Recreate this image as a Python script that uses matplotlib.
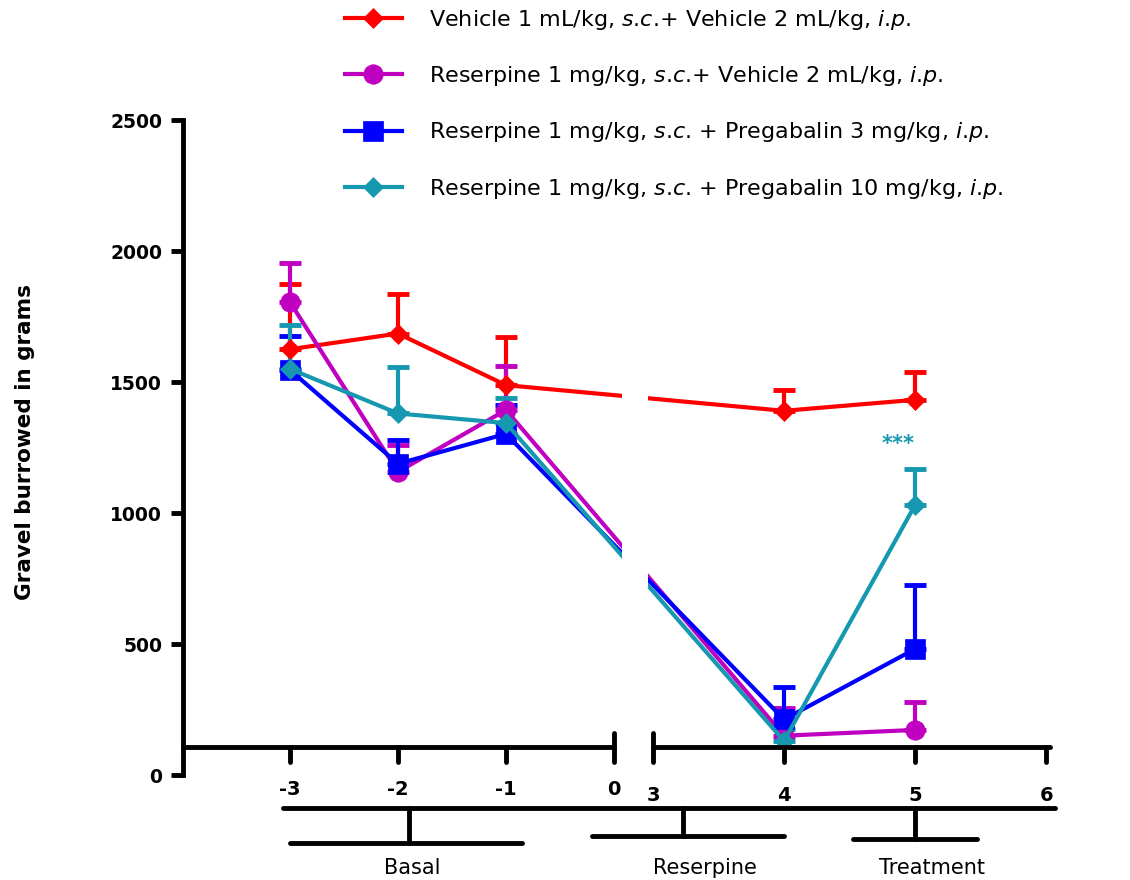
import numpy as np
import matplotlib
matplotlib.use("Agg")
import matplotlib.pyplot as plt

# data (days, grams burrowed, upper SEM)
days = [-3, -2, -1, 4, 5]
veh_mean = [1625, 1685, 1488, 1390, 1432]
veh_err = [250, 150, 185, 80, 107]
res_mean = [1805, 1157, 1393, 150, 172]
res_err = [150, 103, 168, 105, 107]
pg3_mean = [1546, 1188, 1302, 212, 481]
pg3_err = [130, 92, 110, 124, 244]
pg10_mean = [1550, 1380, 1343, 130, 1030]
pg10_err = [168, 177, 96, 45, 138]

sc = r"$\mathit{s}$.$\mathit{c}$."
ip = r"$\mathit{i}$.$\mathit{p}$."
labels = ["Vehicle 1 mL/kg, " + sc + "+ Vehicle 2 mL/kg, " + ip,
          "Reserpine 1 mg/kg, " + sc + "+ Vehicle 2 mL/kg, " + ip,
          "Reserpine 1 mg/kg, " + sc + " + Pregabalin 3 mg/kg, " + ip,
          "Reserpine 1 mg/kg, " + sc + " + Pregabalin 10 mg/kg, " + ip]
colors = ["#FF0000", "#C000C0", "#0000FF", "#1598B0"]
markers = ["D", "o", "s", "D"]
msizes = [10, 14, 14, 10]

left_ticks = [-3, -2, -1, 0]
right_ticks = [3, 4, 5, 6]
phases = ["Basal", "Reserpine", "Treatment"]

# broken x axis: -4..0 and 3..6 with different widths
S1, GAP, S2 = 108.0, 39.0, 131.0


def fwd(x):
    x = np.asarray(x, dtype=float)
    return np.where(x <= 0, x * S1, np.where(x < 3, x * GAP / 3, GAP + (x - 3) * S2))


def inv(u):
    u = np.asarray(u, dtype=float)
    return np.where(u <= 0, u / S1, np.where(u < GAP, u * 3 / GAP, 3 + (u - GAP) / S2))


fig = plt.figure(figsize=(11.3, 8.8), dpi=100)
ax = fig.add_axes([183 / 1130, 105 / 880, 867 / 1130, 655 / 880])
ax.set_xscale("function", functions=(fwd, inv))
ax.set_xlim(-3.99, 6.03)
ax.set_ylim(0, 2500)

series = [(veh_mean, veh_err), (res_mean, res_err), (pg3_mean, pg3_err), (pg10_mean, pg10_err)]
handles = []
for (m, e), c, mk, ms in zip(series, colors, markers, msizes):
    ax.errorbar(days, m, yerr=[np.zeros(len(e)), e], fmt="none", ecolor=c,
                elinewidth=3, capsize=8, capthick=3.5, zorder=2)
    h, = ax.plot(days, m, color=c, lw=3, marker=mk, ms=ms, mec=c, mew=0.5, zorder=3)
    handles.append(h)

# white gap for the axis break
ax.axvspan(0.62, 2.62, color="white", zorder=4, lw=0)

# y axis
for s in ["top", "right", "bottom"]:
    ax.spines[s].set_visible(False)
ax.spines["left"].set_linewidth(3.5)
ax.set_yticks([0, 500, 1000, 1500, 2000, 2500])
ax.tick_params(axis="y", direction="out", length=9, width=3.5, pad=6, labelsize=13.5)
for t in ax.get_yticklabels():
    t.set_fontweight("bold")
ax.set_xticks([])

# broken x axis drawn by hand
y0 = 107
kw = dict(color="black", lw=3.5, clip_on=False, zorder=6, solid_capstyle="round")
ax.plot([-3.99, 0], [y0, y0], **kw)
ax.plot([3, 6.03], [y0, y0], **kw)
for t in left_ticks + right_ticks:
    top = 160 if t in (0, 3) else y0
    ax.plot([t, t], [top, 48], **kw)
for t in left_ticks:
    ax.text(t, -57, str(t), ha="center", va="center", fontsize=14, fontweight="bold", clip_on=False)
for t in right_ticks:
    ax.text(t, -78, str(t), ha="center", va="center", fontsize=14, fontweight="bold", clip_on=False)

# phase brackets under the axis
ax.plot([-3.06, 6.07], [-126, -126], **kw)
brackets = [(-3.0, -0.85, -1.9, -260), (-0.2, 4.0, 3.23, -233), (4.53, 5.47, 5.0, -244)]
for (a, b, mid, yb), name, tx in zip(brackets, phases, [-1.87, 3.40, 5.13]):
    ax.plot([a, b], [yb, yb], **kw)
    ax.plot([mid, mid], [-126, yb], **kw)
    ax.text(tx, -355, name, ha="center", va="center", fontsize=15, clip_on=False)

ax.text(4.87, 1262, "***", ha="center", va="center", fontsize=15, fontweight="bold",
        color=colors[3])

fig.text(25 / 1130, 1 - 442 / 880, "Gravel burrowed in grams", rotation=90,
         ha="center", va="center", fontsize=15.5, fontweight="bold")

ax.legend(handles, labels, loc="upper left", bbox_to_anchor=(345 / 1130, 0.991),
          bbox_transform=fig.transFigure, frameon=False, fontsize=16,
          handlelength=2.55, handletextpad=1.25, labelspacing=1.45,
          borderaxespad=0, borderpad=0)

fig.savefig("out.png", dpi=100)
